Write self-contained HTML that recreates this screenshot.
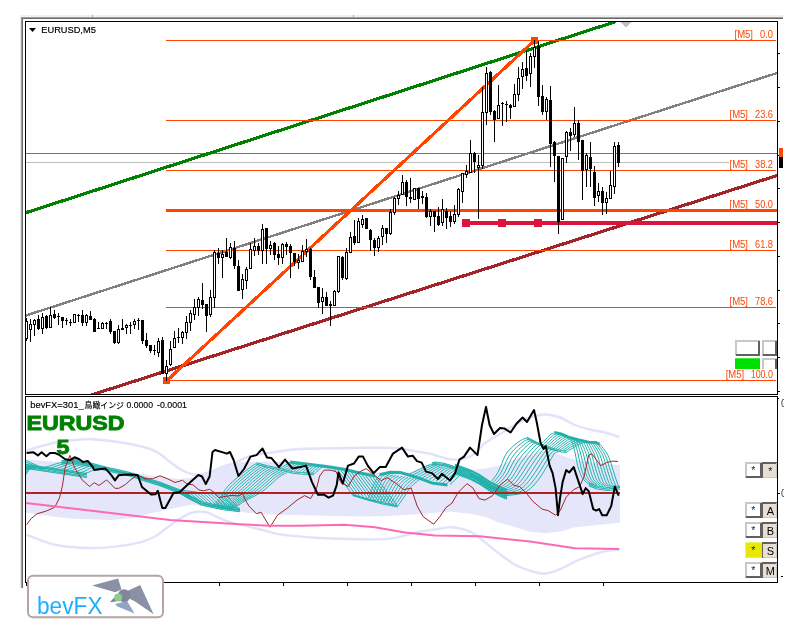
<!DOCTYPE html>
<html lang="ja"><head><meta charset="utf-8"><title>EURUSD,M5 - bevFX</title>
<style>html,body{margin:0;padding:0;background:#fff;overflow:hidden}svg{display:block}</style>
</head><body>
<svg width="799" height="627" viewBox="0 0 799 627">
<rect width="799" height="627" fill="#fff"/>
<defs><clipPath id="cm"><rect x="26" y="22" width="751" height="372"/></clipPath><clipPath id="cs"><rect x="26" y="397" width="594" height="185"/></clipPath></defs>
<g clip-path="url(#cm)" shape-rendering="crispEdges">
<rect x="26" y="162" width="703" height="1" fill="#C0C0C0"/>
<rect x="26" y="153" width="751" height="1" fill="#FF4500"/>
<line x1="25" y1="213" x2="616" y2="21.5" stroke="#008000" stroke-width="3.2"/>
<line x1="25" y1="315.8" x2="777" y2="73" stroke="#808080" stroke-width="2.4"/>
<line x1="80.0" y1="398.6" x2="778.0" y2="175.2" stroke="#A32428" stroke-width="3.2"/>
<rect x="166" y="40" width="610" height="1" fill="#FF4500"/>
<rect x="166" y="120" width="610" height="1" fill="#FF4500"/>
<rect x="166" y="170" width="610" height="1" fill="#FF4500"/>
<rect x="166" y="250" width="610" height="1" fill="#FF4500"/>
<rect x="166" y="307" width="610" height="1" fill="#FF4500"/>
<rect x="166" y="380" width="610" height="1" fill="#FF4500"/>
<rect x="166" y="209" width="611" height="3" fill="#FF4500"/>
<rect x="462" y="221" width="315" height="4" fill="#DC143C"/>
<rect x="462" y="219" width="8" height="8" fill="#DC143C"/>
<rect x="498" y="219" width="8" height="8" fill="#DC143C"/>
<rect x="534" y="219" width="8" height="8" fill="#DC143C"/>
<line x1="167" y1="380.5" x2="534.5" y2="40.5" stroke="#FF4500" stroke-width="3.2"/>
<rect x="163" y="377" width="7" height="7" fill="#FF4500"/>
<rect x="531" y="37" width="7" height="7" fill="#FF4500"/>
<path d="M620 22h11l-5.5 5.5z" fill="#C0C0C0"/>
<path d="M26 318v23h1v-23zM30 319v23h1v-23zM34 319v17h1v-17zM38 315v15h1v-15zM42 313v21h1v-21zM46 315v14h1v-14zM50 307v21h1v-21zM54 310v9h1v-9zM58 313v12h1v-12zM62 317v11h1v-11zM66 318v7h1v-7zM70 319v7h1v-7zM74 314v9h1v-9zM78 314v8h1v-8zM82 310v16h1v-16zM86 314v12h1v-12zM90 311v9h1v-9zM94 318v14h1v-14zM98 322v7h1v-7zM102 322v7h1v-7zM106 322v7h1v-7zM110 319v15h1v-15zM114 331v13h1v-13zM118 325v19h1v-19zM122 319v11h1v-11zM126 324v10h1v-10zM130 322v12h1v-12zM134 319v10h1v-10zM138 318v12h1v-12zM142 320v24h1v-24zM146 333v15h1v-15zM150 345v8h1v-8zM154 345v10h1v-10zM158 338v19h1v-19zM162 337v37h1v-37zM166 360v21h1v-21zM170 341v25h1v-25zM174 331v17h1v-17zM178 328v15h1v-15zM182 331v13h1v-13zM186 316v23h1v-23zM190 310v21h1v-21zM194 299v21h1v-21zM198 297v19h1v-19zM202 283v26h1v-26zM206 304v28h1v-28zM210 290v27h1v-27zM214 250v58h1v-58zM218 248v16h1v-16zM222 250v28h1v-28zM226 238v19h1v-19zM230 243v16h1v-16zM234 241v28h1v-28zM238 260v31h1v-31zM242 274v25h1v-25zM246 267v22h1v-22zM250 243v26h1v-26zM254 238v18h1v-18zM258 243v12h1v-12zM262 224v40h1v-40zM266 228v36h1v-36zM270 241v14h1v-14zM274 242v18h1v-18zM278 246v19h1v-19zM282 243v21h1v-21zM286 242v13h1v-13zM290 244v34h1v-34zM294 253v13h1v-13zM298 254v15h1v-15zM302 245v17h1v-17zM306 239v18h1v-18zM310 248v32h1v-32zM314 270v18h1v-18zM318 287v21h1v-21zM322 288v26h1v-26zM326 292v14h1v-14zM330 301v25h1v-25zM334 290v16h1v-16zM338 256v37h1v-37zM342 256v24h1v-24zM346 248v32h1v-32zM350 232v21h1v-21zM354 220v25h1v-25zM358 218v25h1v-25zM362 215v13h1v-13zM366 218v11h1v-11zM370 229v22h1v-22zM374 238v18h1v-18zM378 236v16h1v-16zM382 225v20h1v-20zM386 228v15h1v-15zM390 209v26h1v-26zM394 197v18h1v-18zM398 191v14h1v-14zM402 175v20h1v-20zM406 180v26h1v-26zM410 178v25h1v-25zM414 188v12h1v-12zM418 188v21h1v-21zM422 191v13h1v-13zM426 193v25h1v-25zM430 209v17h1v-17zM434 211v21h1v-21zM438 207v19h1v-19zM442 199v27h1v-27zM446 208v21h1v-21zM450 211v16h1v-16zM454 205v19h1v-19zM458 188v29h1v-29zM462 173v30h1v-30zM466 165v13h1v-13zM470 140v33h1v-33zM474 152v21h1v-21zM478 155v64h1v-64zM482 87v82h1v-82zM486 67v58h1v-58zM490 71v44h1v-44zM494 110v32h1v-32zM498 85v34h1v-34zM502 102v24h1v-24zM506 101v21h1v-21zM510 104v15h1v-15zM514 84v23h1v-23zM518 67v34h1v-34zM522 62v27h1v-27zM526 51v30h1v-30zM530 53v34h1v-34zM534 40v28h1v-28zM538 41v65h1v-65zM542 85v30h1v-30zM546 97v23h1v-23zM550 86v81h1v-81zM554 141v41h1v-41zM558 156v78h1v-78zM562 158v62h1v-62zM566 131v32h1v-32zM570 128v23h1v-23zM574 107v30h1v-30zM578 120v40h1v-40zM582 140v60h1v-60zM586 153v34h1v-34zM590 142v45h1v-45zM594 166v40h1v-40zM598 183v19h1v-19zM602 187v28h1v-28zM606 192v22h1v-22zM610 171v28h1v-28zM614 142v52h1v-52zM618 142v25h1v-25z" fill="#000"/>
<path d="M25 321h3v18h-3zM29 324h3v6h-3zM33 320h3v5h-3zM37 319h3v10h-3zM41 317h3v12h-3zM45 316h3v12h-3zM49 315h3v13h-3zM53 314h3v4h-3zM57 316h3v1h-3zM61 317h3v4h-3zM65 320h3v1h-3zM69 322h3v1h-3zM73 314h3v9h-3zM77 315h3v1h-3zM81 315h3v8h-3zM85 315h3v8h-3zM89 316h3v4h-3zM93 319h3v13h-3zM97 328h3v1h-3zM101 323h3v6h-3zM105 323h3v1h-3zM109 321h3v11h-3zM113 331h3v12h-3zM117 329h3v14h-3zM121 328h3v2h-3zM125 325h3v3h-3zM129 325h3v1h-3zM133 321h3v4h-3zM137 320h3v1h-3zM141 320h3v21h-3zM145 340h3v6h-3zM149 345h3v6h-3zM153 350h3v1h-3zM157 341h3v12h-3zM161 340h3v34h-3zM165 366h3v8h-3zM169 349h3v16h-3zM173 338h3v10h-3zM177 337h3v1h-3zM181 332h3v6h-3zM185 322h3v11h-3zM189 313h3v10h-3zM193 307h3v8h-3zM197 299h3v9h-3zM201 300h3v5h-3zM205 304h3v12h-3zM209 297h3v18h-3zM213 252h3v46h-3zM217 253h3v5h-3zM221 254h3v4h-3zM225 252h3v5h-3zM229 247h3v11h-3zM233 248h3v18h-3zM237 266h3v25h-3zM241 279h3v11h-3zM245 269h3v12h-3zM249 249h3v20h-3zM253 246h3v5h-3zM257 246h3v5h-3zM261 229h3v22h-3zM265 228h3v21h-3zM269 245h3v4h-3zM273 243h3v12h-3zM277 254h3v4h-3zM281 244h3v14h-3zM285 244h3v3h-3zM289 246h3v7h-3zM293 253h3v9h-3zM297 260h3v3h-3zM301 251h3v11h-3zM305 249h3v3h-3zM309 249h3v28h-3zM313 277h3v11h-3zM317 287h3v16h-3zM321 297h3v5h-3zM325 297h3v9h-3zM329 304h3v2h-3zM333 291h3v15h-3zM337 256h3v36h-3zM341 257h3v21h-3zM345 252h3v27h-3zM349 237h3v16h-3zM353 236h3v7h-3zM357 221h3v22h-3zM361 219h3v6h-3zM365 218h3v11h-3zM369 230h3v10h-3zM373 240h3v8h-3zM377 238h3v10h-3zM381 228h3v9h-3zM385 228h3v6h-3zM389 212h3v22h-3zM393 198h3v15h-3zM397 195h3v4h-3zM401 182h3v13h-3zM405 182h3v15h-3zM409 197h3v2h-3zM413 188h3v12h-3zM417 188h3v11h-3zM421 196h3v2h-3zM425 197h3v20h-3zM429 211h3v6h-3zM433 211h3v6h-3zM437 216h3v9h-3zM441 209h3v14h-3zM445 211h3v7h-3zM449 216h3v6h-3zM453 214h3v8h-3zM457 189h3v26h-3zM461 173h3v19h-3zM465 171h3v4h-3zM469 153h3v20h-3zM473 153h3v9h-3zM477 165h3v3h-3zM481 112h3v54h-3zM485 73h3v40h-3zM489 72h3v40h-3zM493 111h3v9h-3zM497 105h3v14h-3zM501 103h3v1h-3zM505 104h3v1h-3zM509 105h3v3h-3zM513 94h3v13h-3zM517 78h3v17h-3zM521 69h3v8h-3zM525 68h3v8h-3zM529 56h3v18h-3zM533 47h3v10h-3zM537 46h3v51h-3zM541 96h3v16h-3zM545 99h3v13h-3zM549 100h3v44h-3zM553 142h3v14h-3zM557 156h3v66h-3zM561 158h3v62h-3zM565 132h3v25h-3zM569 132h3v4h-3zM573 123h3v12h-3zM577 123h3v19h-3zM581 140h3v31h-3zM585 155h3v15h-3zM589 157h3v12h-3zM593 172h3v26h-3zM597 191h3v5h-3zM601 191h3v12h-3zM605 198h3v5h-3zM609 185h3v14h-3zM613 146h3v41h-3zM617 145h3v18h-3z" fill="#000"/>
<path d="M26 322h1v16h-1zM30 325h1v4h-1zM34 321h1v3h-1zM42 318h1v10h-1zM50 316h1v11h-1zM74 315h1v7h-1zM86 316h1v6h-1zM102 324h1v4h-1zM118 330h1v12h-1zM126 326h1v1h-1zM134 322h1v2h-1zM158 342h1v10h-1zM166 367h1v6h-1zM170 350h1v14h-1zM174 339h1v8h-1zM182 333h1v4h-1zM186 323h1v9h-1zM190 314h1v8h-1zM194 308h1v6h-1zM198 300h1v7h-1zM210 298h1v16h-1zM214 253h1v44h-1zM222 255h1v2h-1zM230 248h1v9h-1zM242 280h1v9h-1zM246 270h1v10h-1zM250 250h1v18h-1zM254 247h1v3h-1zM262 230h1v20h-1zM270 246h1v2h-1zM282 245h1v12h-1zM298 261h1v1h-1zM302 252h1v9h-1zM306 250h1v1h-1zM322 298h1v3h-1zM334 292h1v13h-1zM338 257h1v34h-1zM346 253h1v25h-1zM350 238h1v14h-1zM358 222h1v20h-1zM362 220h1v4h-1zM378 239h1v8h-1zM382 229h1v7h-1zM390 213h1v20h-1zM394 199h1v13h-1zM398 196h1v2h-1zM402 183h1v11h-1zM414 189h1v10h-1zM430 212h1v4h-1zM442 210h1v12h-1zM454 215h1v6h-1zM458 190h1v24h-1zM462 174h1v17h-1zM466 172h1v2h-1zM470 154h1v18h-1zM478 166h1v1h-1zM482 113h1v52h-1zM486 74h1v38h-1zM498 106h1v12h-1zM514 95h1v11h-1zM518 79h1v15h-1zM522 70h1v6h-1zM530 57h1v16h-1zM534 48h1v8h-1zM546 100h1v11h-1zM562 159h1v60h-1zM566 133h1v23h-1zM574 124h1v10h-1zM586 156h1v13h-1zM598 192h1v3h-1zM606 199h1v3h-1zM610 186h1v12h-1zM614 147h1v39h-1z" fill="#fff"/>
</g>
<g shape-rendering="crispEdges">
<rect x="735" y="340" width="25" height="16" fill="#fff"/><rect x="735" y="340" width="25" height="2" fill="#C8C8C8"/><rect x="735" y="340" width="2" height="16" fill="#C8C8C8"/><rect x="736" y="354" width="24" height="2" fill="#606060"/><rect x="758" y="341" width="2" height="15" fill="#606060"/>
<rect x="762" y="340" width="15" height="16" fill="#fff"/><rect x="762" y="340" width="15" height="2" fill="#C8C8C8"/><rect x="762" y="340" width="2" height="16" fill="#C8C8C8"/><rect x="763" y="354" width="14" height="2" fill="#606060"/><rect x="775" y="341" width="2" height="15" fill="#606060"/>
<rect x="735" y="358" width="25" height="11" fill="#00E000"/>
<rect x="735" y="358" width="25" height="1" fill="#40F040"/>
<rect x="762" y="358" width="15" height="11" fill="#fff"/><rect x="762" y="358" width="15" height="2" fill="#C8C8C8"/><rect x="762" y="358" width="2" height="11" fill="#C8C8C8"/><rect x="775" y="359" width="2" height="10" fill="#606060"/>
</g>
<path d="M29 28h7l-3.5 4z" fill="#000"/>
<text x="41.3" y="33" font-family='"Liberation Sans", "Noto Sans CJK JP", sans-serif' font-size="9.6" stroke="#000" stroke-width="0.2" textLength="54.5" lengthAdjust="spacingAndGlyphs" fill="#000">EURUSD,M5</text>
<text x="734.5" y="38" font-family='"Liberation Sans", "Noto Sans CJK JP", sans-serif' font-size="10" textLength="18.5" lengthAdjust="spacingAndGlyphs" fill="#FF4500">[M5]</text>
<text x="760" y="38" font-family='"Liberation Sans", "Noto Sans CJK JP", sans-serif' font-size="10" textLength="13" lengthAdjust="spacingAndGlyphs" fill="#FF4500">0.0</text>
<text x="729.5" y="118" font-family='"Liberation Sans", "Noto Sans CJK JP", sans-serif' font-size="10" textLength="18.5" lengthAdjust="spacingAndGlyphs" fill="#FF4500">[M5]</text>
<text x="755" y="118" font-family='"Liberation Sans", "Noto Sans CJK JP", sans-serif' font-size="10" textLength="18" lengthAdjust="spacingAndGlyphs" fill="#FF4500">23.6</text>
<text x="729.5" y="168" font-family='"Liberation Sans", "Noto Sans CJK JP", sans-serif' font-size="10" textLength="18.5" lengthAdjust="spacingAndGlyphs" fill="#FF4500">[M5]</text>
<text x="755" y="168" font-family='"Liberation Sans", "Noto Sans CJK JP", sans-serif' font-size="10" textLength="18" lengthAdjust="spacingAndGlyphs" fill="#FF4500">38.2</text>
<text x="729.5" y="208" font-family='"Liberation Sans", "Noto Sans CJK JP", sans-serif' font-size="10" textLength="18.5" lengthAdjust="spacingAndGlyphs" fill="#FF4500">[M5]</text>
<text x="755" y="208" font-family='"Liberation Sans", "Noto Sans CJK JP", sans-serif' font-size="10" textLength="18" lengthAdjust="spacingAndGlyphs" fill="#FF4500">50.0</text>
<text x="729.5" y="248" font-family='"Liberation Sans", "Noto Sans CJK JP", sans-serif' font-size="10" textLength="18.5" lengthAdjust="spacingAndGlyphs" fill="#FF4500">[M5]</text>
<text x="755" y="248" font-family='"Liberation Sans", "Noto Sans CJK JP", sans-serif' font-size="10" textLength="18" lengthAdjust="spacingAndGlyphs" fill="#FF4500">61.8</text>
<text x="729.5" y="305" font-family='"Liberation Sans", "Noto Sans CJK JP", sans-serif' font-size="10" textLength="18.5" lengthAdjust="spacingAndGlyphs" fill="#FF4500">[M5]</text>
<text x="755" y="305" font-family='"Liberation Sans", "Noto Sans CJK JP", sans-serif' font-size="10" textLength="18" lengthAdjust="spacingAndGlyphs" fill="#FF4500">78.6</text>
<text x="725.7" y="378" font-family='"Liberation Sans", "Noto Sans CJK JP", sans-serif' font-size="10" textLength="18.5" lengthAdjust="spacingAndGlyphs" fill="#FF4500">[M5]</text>
<text x="750.7" y="378" font-family='"Liberation Sans", "Noto Sans CJK JP", sans-serif' font-size="10" textLength="22.3" lengthAdjust="spacingAndGlyphs" fill="#FF4500">100.0</text>
<g clip-path="url(#cs)">
<path d="M26.0 459.6 L60.0 462.0 L90.0 463.0 L110.0 467.0 L130.0 472.0 L150.0 475.6 L170.0 478.0 L180.0 479.0 L190.0 478.0 L202.0 475.6 L214.0 471.0 L230.0 464.4 L242.0 462.0 L256.0 462.0 L292.0 461.0 L330.0 465.0 L345.0 467.5 L356.0 471.0 L380.0 472.5 L400.0 472.0 L410.0 472.5 L418.0 469.0 L427.0 465.5 L434.0 463.0 L444.0 463.5 L455.0 467.0 L470.0 470.0 L485.0 468.6 L500.0 465.6 L515.0 459.6 L530.0 455.0 L545.0 450.6 L560.0 455.0 L575.0 459.6 L590.0 462.6 L605.0 464.0 L620.0 465.0 L620.0 522.7 L605.0 524.2 L590.0 525.7 L575.0 527.2 L560.0 531.7 L545.0 533.2 L530.0 531.7 L515.0 527.2 L500.0 522.7 L485.0 516.7 L470.0 513.7 L450.0 511.5 L420.0 514.0 L390.0 516.0 L360.0 516.5 L315.0 515.5 L270.0 514.5 L245.0 512.5 L227.6 510.0 L210.0 507.0 L192.6 504.6 L175.0 508.0 L161.5 511.0 L150.0 513.5 L136.5 517.5 L111.5 520.0 L74.0 518.7 L56.0 517.0 L26.0 512.5Z" fill="#E6E6FA"/>
<path d="M26.0 451.0C28.3 450.2 35.0 447.9 40.0 446.5C45.0 445.1 50.2 443.6 56.0 442.5C61.8 441.4 69.0 440.6 75.0 440.0C81.0 439.4 86.2 439.0 92.0 439.2C97.8 439.4 103.7 440.2 110.0 441.0C116.3 441.8 123.3 442.7 130.0 444.0C136.7 445.3 145.0 447.3 150.0 449.0C155.0 450.7 156.7 451.8 160.0 454.0C163.3 456.2 166.7 459.5 170.0 462.0C173.3 464.5 176.7 467.1 180.0 469.0C183.3 470.9 187.0 472.6 190.0 473.6C193.0 474.6 194.7 475.3 198.0 475.0C201.3 474.7 206.0 473.3 210.0 472.0C214.0 470.7 218.0 468.5 222.0 467.0C226.0 465.5 229.3 464.8 234.0 463.0C238.7 461.2 245.3 457.5 250.0 456.0C254.7 454.5 256.2 454.9 262.0 454.0C267.8 453.1 277.8 451.4 285.0 450.5C292.2 449.6 293.3 449.1 305.0 448.7C316.7 448.3 340.5 448.1 355.0 448.0C369.5 447.9 381.2 447.3 392.0 448.0C402.8 448.7 413.7 451.1 420.0 452.0C426.3 452.9 426.7 452.9 430.0 453.7C433.3 454.5 436.3 455.6 440.0 456.6C443.7 457.6 447.0 459.6 452.0 459.6C457.0 459.6 464.5 459.4 470.0 456.6C475.5 453.8 480.0 446.8 485.0 443.0C490.0 439.2 495.0 437.0 500.0 434.0C505.0 431.0 510.0 427.8 515.0 425.0C520.0 422.2 525.0 419.2 530.0 417.5C535.0 415.8 540.0 414.5 545.0 414.5C550.0 414.5 555.0 415.8 560.0 417.5C565.0 419.2 570.0 423.0 575.0 425.0C580.0 427.0 585.0 428.2 590.0 429.5C595.0 430.8 600.1 431.2 605.0 432.5C609.9 433.8 616.9 436.2 619.3 437.0" fill="none" stroke="#E2E2FA" stroke-width="2.4" stroke-linejoin="round"/>
<path d="M26.0 534.7C31.0 536.4 45.0 542.8 56.0 545.0C67.0 547.2 81.3 547.8 92.0 548.0C102.7 548.2 112.0 547.0 120.0 546.0C128.0 545.0 134.3 543.8 140.0 542.3C145.7 540.8 149.6 539.3 154.0 537.0C158.4 534.7 162.2 531.2 166.3 528.3C170.4 525.4 174.1 522.1 178.5 519.5C182.9 516.9 187.9 513.7 192.6 512.5C197.3 511.3 202.5 511.5 206.6 512.2C210.7 513.0 213.5 515.5 217.0 517.0C220.5 518.5 222.9 519.8 227.6 521.3C232.3 522.8 239.2 524.2 245.0 525.7C250.8 527.2 256.8 528.5 262.6 530.0C268.4 531.5 271.3 533.1 280.0 534.4C288.7 535.7 301.7 536.9 315.0 537.7C328.3 538.5 347.5 539.1 360.0 539.2C372.5 539.4 380.0 539.9 390.0 538.6C400.0 537.4 411.7 533.4 420.0 531.7C428.3 530.1 434.7 529.5 440.0 528.7C445.3 528.0 447.0 526.7 452.0 527.2C457.0 527.7 464.5 529.2 470.0 531.7C475.5 534.2 480.0 538.5 485.0 542.2C490.0 546.0 495.0 550.5 500.0 554.2C505.0 558.0 510.0 562.0 515.0 564.7C520.0 567.5 525.0 569.2 530.0 570.7C535.0 572.2 540.0 574.0 545.0 573.7C550.0 573.5 555.0 571.2 560.0 569.2C565.0 567.2 570.0 564.0 575.0 561.7C580.0 559.5 585.0 557.5 590.0 555.7C595.0 554.0 600.1 552.2 605.0 551.2C609.9 550.2 616.9 550.0 619.3 549.7" fill="none" stroke="#E2E2FA" stroke-width="2.4" stroke-linejoin="round"/>
<path d="M26.0 464.5 L87.0 473.5M26.0 465.8 L87.0 474.8M26.0 467.2 L87.0 476.2M26.0 468.5 L87.0 477.5M61.5 460.8 L73.5 459.2 L91.6 463.2 L106.6 467.2 L129.0 472.2 L144.0 477.2 L160.0 482.2 L179.5 489.8M61.5 461.9 L73.5 460.4 L91.6 464.4 L106.6 468.4 L129.0 473.4 L144.0 478.4 L160.0 483.4 L179.5 490.9M61.5 463.1 L73.5 461.6 L91.6 465.6 L106.6 469.6 L129.0 474.6 L144.0 479.6 L160.0 484.6 L179.5 492.1M61.5 464.2 L73.5 462.8 L91.6 466.8 L106.6 470.8 L129.0 475.8 L144.0 480.8 L160.0 485.8 L179.5 493.2M179.5 489.8 L190.0 495.8 L202.0 501.8 L223.0 506.2 L240.0 508.2M179.5 490.9 L190.0 496.9 L202.0 502.9 L223.0 507.4 L240.0 509.4M179.5 492.1 L190.0 498.1 L202.0 504.1 L223.0 508.6 L240.0 510.6M179.5 493.2 L190.0 499.2 L202.0 505.2 L223.0 509.8 L240.0 511.8M179.5 490.0 L197.6 492.3 L220.0 493.8 L228.0 494.2M256.3 462.8 L267.5 465.8 L279.5 468.2 L293.0 471.8 L300.5 472.6 L314.0 473.2M256.3 464.2 L267.5 467.2 L279.5 469.8 L293.0 473.2 L300.5 474.1 L314.0 474.8M290.0 460.9 L308.0 463.2 L326.0 465.4 L345.0 468.4 L360.0 471.9 L375.0 474.9M290.0 462.0 L308.0 464.3 L326.0 466.5 L345.0 469.5 L360.0 473.0 L375.0 476.0M290.0 463.1 L308.0 465.4 L326.0 467.6 L345.0 470.6 L360.0 474.1 L375.0 477.1M352.5 494.4 L367.5 498.9 L382.5 502.7 L397.6 505.7M352.5 495.6 L367.5 500.1 L382.5 503.9 L397.6 506.9M379.5 473.8 L390.0 471.2 L400.5 471.5 L408.0 473.8 L420.0 477.5 L432.0 482.0 L447.5 484.0M379.5 474.8 L390.0 472.2 L400.5 472.5 L408.0 474.8 L420.0 478.5 L432.0 483.0 L447.5 485.0M379.5 475.8 L390.0 473.2 L400.5 473.5 L408.0 475.8 L420.0 479.5 L432.0 484.0 L447.5 486.0M432.0 462.8 L435.0 462.1 L444.0 463.2 L455.0 466.8M432.0 464.0 L435.0 463.4 L444.0 464.5 L455.0 468.0M432.0 465.2 L435.0 464.6 L444.0 465.8 L455.0 469.2M455.0 464.2 L470.0 469.8 L479.0 474.2 L491.0 482.2 L500.0 486.8 L507.0 489.8M455.0 465.4 L470.0 470.9 L479.0 475.4 L491.0 483.4 L500.0 487.9 L507.0 490.9M455.0 466.6 L470.0 472.1 L479.0 476.6 L491.0 484.6 L500.0 489.1 L507.0 492.1M455.0 467.8 L470.0 473.3 L479.0 477.8 L491.0 485.8 L500.0 490.3 L507.0 493.3M455.0 469.0 L470.0 474.5 L479.0 479.0 L491.0 487.0 L500.0 491.5 L507.0 494.5M455.0 470.2 L470.0 475.7 L479.0 480.2 L491.0 488.2 L500.0 492.7 L507.0 495.7M455.0 471.4 L470.0 476.9 L479.0 481.4 L491.0 489.4 L500.0 493.9 L507.0 496.9M455.0 472.6 L470.0 478.1 L479.0 482.6 L491.0 490.6 L500.0 495.1 L507.0 498.1M455.0 473.8 L470.0 479.2 L479.0 483.8 L491.0 491.8 L500.0 496.2 L507.0 499.2M526.9 437.2 L536.5 442.2 L547.5 446.9 L561.3 450.4 L566.8 451.1M526.9 438.8 L536.5 443.8 L547.5 448.4 L561.3 451.9 L566.8 452.6M554.4 431.6 L561.3 433.0 L569.6 436.4 L579.2 439.1 L588.8 441.2 L595.7 441.6 L599.8 443.3M554.4 432.6 L561.3 434.0 L569.6 437.4 L579.2 440.1 L588.8 442.2 L595.7 442.6 L599.8 444.3M554.4 433.6 L561.3 435.0 L569.6 438.4 L579.2 441.1 L588.8 443.2 L595.7 443.6 L599.8 445.3M588.8 482.7 L597.0 486.1 L608.0 487.5 L621.0 485.8M588.8 484.2 L597.0 487.6 L608.0 489.0 L621.0 487.3M588.8 485.7 L597.0 489.1 L608.0 490.5 L621.0 488.8" fill="none" stroke="#20B2AA" stroke-width="1.05" stroke-linejoin="round"/>
<path d="M26.0 470.0C26.7 469.7 28.7 468.4 30.0 468.0C31.3 467.6 33.3 467.7 34.0 467.6M26.0 468.1C26.9 468.0 29.5 467.4 31.2 467.4C32.9 467.4 35.5 467.8 36.4 467.9M26.0 466.2C27.1 466.3 30.3 466.5 32.4 466.8C34.5 467.1 37.7 468.0 38.8 468.2M26.0 464.3C27.3 464.6 31.1 465.5 33.6 466.2C36.1 466.9 39.9 468.2 41.2 468.6M26.0 462.4C27.5 462.9 31.9 464.5 34.8 465.6C37.7 466.7 42.1 468.3 43.6 468.9M26.0 460.5C27.7 461.2 32.7 463.6 36.0 465.0C39.3 466.4 44.3 468.5 46.0 469.2M26.0 474.5C26.5 473.8 28.0 471.2 29.0 470.0C30.0 468.8 31.5 467.9 32.0 467.5M26.0 473.0C26.5 472.4 28.1 470.3 29.2 469.4C30.3 468.5 31.9 467.8 32.4 467.5M26.0 471.5C26.6 471.1 28.3 469.5 29.4 468.8C30.5 468.1 32.2 467.8 32.8 467.5M26.0 470.0C26.6 469.7 28.4 468.6 29.6 468.2C30.8 467.8 32.6 467.7 33.2 467.6M26.0 468.5C26.6 468.4 28.5 467.8 29.8 467.6C31.1 467.4 33.0 467.6 33.6 467.6M26.0 467.0C26.7 467.0 28.7 466.9 30.0 467.0C31.3 467.1 33.3 467.5 34.0 467.6M38.0 468.2C39.7 467.9 44.7 467.3 48.0 466.5C51.3 465.7 55.0 463.9 58.0 463.2C61.0 462.4 64.7 462.2 66.0 462.0M43.2 469.0C44.9 468.7 49.8 468.1 53.0 467.2C56.2 466.4 59.9 464.6 62.8 463.9C65.6 463.1 69.1 462.9 70.4 462.7M48.5 469.8C50.1 469.5 54.8 468.9 58.0 468.0C61.2 467.1 64.7 465.3 67.5 464.5C70.3 463.8 73.5 463.5 74.8 463.4M53.8 470.6C55.3 470.3 59.9 469.6 63.0 468.8C66.1 467.9 69.6 466.0 72.2 465.2C74.9 464.4 78.0 464.2 79.1 464.0M59.0 471.4C60.5 471.0 65.0 470.4 68.0 469.5C71.0 468.6 74.4 466.7 77.0 465.9C79.6 465.1 82.4 464.9 83.5 464.7M64.2 472.1C65.7 471.8 70.1 471.2 73.0 470.2C75.9 469.3 79.3 467.3 81.8 466.5C84.2 465.7 86.9 465.6 87.9 465.4M69.5 472.9C70.9 472.6 75.2 472.0 78.0 471.0C80.8 470.0 84.1 468.0 86.5 467.2C88.9 466.4 91.3 466.2 92.2 466.0M74.8 473.7C76.1 473.4 80.2 472.7 83.0 471.8C85.8 470.8 89.0 468.7 91.2 467.8C93.5 467.0 95.7 466.9 96.6 466.7M80.0 474.5C81.3 474.2 85.3 473.5 88.0 472.5C90.7 471.5 93.8 469.4 96.0 468.5C98.2 467.6 100.2 467.6 101.0 467.4M181.0 490.5C181.8 491.2 184.2 493.6 186.0 495.0C187.8 496.4 191.0 498.3 192.0 499.0M184.6 490.8C185.4 491.6 187.9 493.9 189.8 495.4C191.6 496.9 194.9 499.1 195.9 499.9M188.2 491.1C189.1 491.9 191.6 494.2 193.5 495.8C195.4 497.4 198.8 499.9 199.8 500.8M191.8 491.4C192.7 492.2 195.2 494.5 197.2 496.2C199.2 498.0 202.7 500.7 203.8 501.6M195.3 491.7C196.3 492.5 198.9 494.9 201.0 496.7C203.1 498.5 206.6 501.5 207.7 502.5M198.9 492.0C199.9 492.8 202.6 495.2 204.8 497.1C206.9 499.0 210.4 502.3 211.6 503.4M202.5 492.2C203.5 493.1 206.3 495.5 208.5 497.5C210.7 499.5 214.3 503.1 215.5 504.2M206.1 492.5C207.1 493.4 210.0 495.8 212.2 497.9C214.5 500.0 218.2 503.9 219.4 505.1M209.7 492.8C210.7 493.8 213.7 496.1 216.0 498.3C218.3 500.5 222.1 504.7 223.3 506.0M213.2 493.1C214.3 494.1 217.4 496.5 219.8 498.8C222.1 501.0 226.0 505.5 227.2 506.9M216.8 493.4C217.9 494.4 221.1 496.8 223.5 499.2C225.9 501.6 229.9 506.3 231.2 507.8M220.4 493.7C221.6 494.7 224.8 497.1 227.2 499.6C229.7 502.1 233.8 507.1 235.1 508.6M224.0 494.0C225.2 495.0 228.5 497.4 231.0 500.0C233.5 502.6 237.7 507.9 239.0 509.5M211.0 506.0C211.5 505.7 212.5 505.3 214.0 504.0C215.5 502.7 218.0 500.6 220.0 498.0C222.0 495.4 223.5 491.6 226.0 488.5C228.5 485.4 231.0 483.0 235.0 479.5C239.0 476.0 246.4 470.2 250.0 467.5C253.6 464.8 255.2 464.2 256.3 463.5M212.5 506.3C213.1 505.9 214.3 505.5 215.9 504.2C217.5 502.8 219.9 500.8 222.1 498.2C224.2 495.7 226.2 491.9 228.8 488.9C231.5 485.8 234.0 483.4 237.9 480.0C241.8 476.5 248.9 470.9 252.4 468.3C255.9 465.7 257.8 464.9 258.9 464.2M214.0 506.6C214.6 506.2 216.1 505.7 217.8 504.3C219.5 503.0 221.9 501.0 224.2 498.5C226.5 496.0 228.9 492.3 231.7 489.2C234.4 486.2 237.0 483.8 240.8 480.4C244.7 477.1 251.4 471.7 254.8 469.1C258.3 466.5 260.3 465.7 261.4 465.0M215.5 506.9C216.2 506.5 218.0 505.9 219.8 504.5C221.5 503.1 223.8 501.2 226.2 498.8C228.7 496.3 231.6 492.6 234.5 489.6C237.4 486.6 240.0 484.2 243.8 480.9C247.5 477.6 253.9 472.4 257.2 469.9C260.6 467.4 262.9 466.4 264.0 465.8M217.0 507.2C217.8 506.8 219.8 506.0 221.7 504.7C223.6 503.3 225.7 501.4 228.3 499.0C230.9 496.6 234.3 492.9 237.3 490.0C240.4 487.1 242.9 484.6 246.7 481.3C250.4 478.1 256.4 473.1 259.7 470.7C263.0 468.2 265.4 467.2 266.5 466.5M218.5 507.5C219.3 507.0 221.6 506.2 223.6 504.8C225.6 503.5 227.7 501.7 230.4 499.2C233.2 496.8 237.0 493.3 240.2 490.4C243.4 487.5 245.9 484.9 249.6 481.8C253.2 478.6 258.8 473.9 262.1 471.5C265.3 469.0 267.9 468.0 269.1 467.2M220.0 507.8C220.9 507.3 223.4 506.4 225.5 505.0C227.6 503.6 229.6 501.9 232.5 499.5C235.4 497.1 239.7 493.6 243.0 490.8C246.3 487.9 248.9 485.3 252.5 482.2C256.1 479.2 261.3 474.6 264.5 472.2C267.7 469.9 270.5 468.7 271.6 468.0M221.5 508.0C222.5 507.6 225.2 506.5 227.4 505.2C229.6 503.8 231.5 502.1 234.6 499.8C237.7 497.4 242.4 494.0 245.8 491.1C249.3 488.3 251.9 485.7 255.4 482.7C258.9 479.7 263.8 475.4 266.9 473.0C270.0 470.7 273.0 469.5 274.2 468.8M223.0 508.3C224.1 507.8 227.1 506.7 229.3 505.3C231.6 503.9 233.4 502.3 236.7 500.0C239.9 497.7 245.1 494.3 248.7 491.5C252.3 488.7 254.9 486.1 258.3 483.2C261.8 480.2 266.3 476.1 269.3 473.8C272.4 471.6 275.5 470.2 276.8 469.5M224.5 508.6C225.6 508.1 228.9 506.9 231.2 505.5C233.6 504.1 235.4 502.5 238.8 500.2C242.1 498.0 247.8 494.6 251.5 491.9C255.2 489.1 257.9 486.5 261.2 483.6C264.6 480.8 268.7 476.9 271.8 474.6C274.8 472.4 278.1 471.0 279.3 470.2M226.0 508.9C227.2 508.4 230.7 507.1 233.2 505.7C235.6 504.3 237.3 502.7 240.8 500.5C244.4 498.3 250.4 495.0 254.3 492.2C258.2 489.5 260.9 486.9 264.2 484.1C267.5 481.3 271.2 477.6 274.2 475.4C277.1 473.2 280.6 471.7 281.9 471.0M227.5 509.2C228.8 508.6 232.5 507.2 235.1 505.8C237.7 504.4 239.2 503.0 242.9 500.8C246.6 498.5 253.1 495.3 257.2 492.6C261.2 489.9 263.8 487.3 267.1 484.5C270.3 481.8 273.7 478.3 276.6 476.2C279.5 474.1 283.1 472.5 284.4 471.8M229.0 509.5C230.3 508.9 234.3 507.4 237.0 506.0C239.7 504.6 241.2 503.2 245.0 501.0C248.8 498.8 255.8 495.7 260.0 493.0C264.2 490.3 266.8 487.7 270.0 485.0C273.2 482.3 276.2 479.1 279.0 477.0C281.8 474.9 285.7 473.2 287.0 472.5M279.5 469.0C280.2 468.5 282.2 467.1 284.0 466.0C285.8 464.9 289.0 462.9 290.0 462.3M282.4 469.4C283.1 468.9 285.1 467.5 286.8 466.4C288.6 465.2 291.8 463.2 292.8 462.6M285.2 469.8C286.0 469.3 288.0 467.9 289.7 466.8C291.4 465.6 294.5 463.6 295.5 462.9M288.1 470.2C288.9 469.7 290.8 468.3 292.5 467.1C294.2 466.0 297.3 463.9 298.2 463.3M291.0 470.7C291.7 470.1 293.7 468.7 295.3 467.5C297.0 466.3 300.1 464.2 301.0 463.6M293.9 471.1C294.6 470.5 296.5 469.1 298.2 467.9C299.8 466.7 302.8 464.6 303.8 463.9M296.8 471.5C297.5 471.0 299.4 469.5 301.0 468.2C302.6 467.0 305.6 464.9 306.5 464.2M299.6 471.9C300.3 471.4 302.2 469.8 303.8 468.6C305.4 467.4 308.3 465.2 309.2 464.6M302.5 472.3C303.2 471.8 305.1 470.2 306.7 469.0C308.2 467.8 311.1 465.6 312.0 464.9M305.4 472.8C306.1 472.2 307.9 470.6 309.5 469.4C311.1 468.1 313.9 465.9 314.8 465.2M308.2 473.2C308.9 472.6 310.8 471.0 312.3 469.8C313.9 468.5 316.6 466.2 317.5 465.6M311.1 473.6C311.8 473.0 313.6 471.4 315.2 470.1C316.7 468.8 319.4 466.6 320.2 465.9M314.0 474.0C314.7 473.4 316.5 471.8 318.0 470.5C319.5 469.2 322.2 466.9 323.0 466.2M333.0 467.5L352.5 495.0M336.5 468.2L356.3 495.9M340.0 468.9L360.0 496.9M343.5 469.6L363.8 497.8M347.0 470.3L367.5 498.8M350.5 471.0L371.3 499.7M354.0 471.8L375.1 500.6M357.5 472.5L378.8 501.6M361.0 473.2L382.6 502.5M364.5 473.9L386.3 503.5M368.0 474.6L390.1 504.4M371.5 475.3L393.8 505.4M375.0 476.0L397.6 506.3M367.5 499.5C368.2 497.8 370.6 492.2 372.0 489.0C373.4 485.8 374.8 482.2 376.0 480.0C377.2 477.8 378.2 476.6 379.5 475.5C380.8 474.4 383.2 473.8 384.0 473.5M370.0 500.1C370.8 498.3 373.2 492.9 374.7 489.7C376.1 486.4 377.5 482.9 378.8 480.7C380.1 478.4 381.1 477.2 382.5 476.1C383.8 475.0 386.2 474.3 387.0 474.0M372.5 500.6C373.3 498.9 375.8 493.5 377.3 490.3C378.9 487.1 380.3 483.6 381.7 481.3C383.0 479.1 384.0 477.9 385.4 476.8C386.8 475.6 389.2 474.8 390.0 474.4M375.0 501.2C375.9 499.5 378.4 494.2 380.0 491.0C381.6 487.8 383.1 484.3 384.5 482.0C385.9 479.7 387.0 478.6 388.4 477.4C389.8 476.2 392.2 475.3 393.0 474.9M377.5 501.8C378.4 500.1 381.0 494.9 382.7 491.7C384.3 488.5 385.9 484.9 387.3 482.7C388.8 480.4 389.9 479.2 391.3 478.0C392.8 476.8 395.2 475.8 396.0 475.3M380.0 502.3C380.9 500.7 383.6 495.5 385.3 492.3C387.0 489.2 388.7 485.6 390.2 483.3C391.7 481.0 392.8 479.9 394.3 478.6C395.8 477.4 398.2 476.3 399.0 475.8M382.6 502.9C383.5 501.2 386.3 496.1 388.0 493.0C389.7 489.9 391.5 486.3 393.0 484.0C394.5 481.7 395.8 480.5 397.2 479.2C398.8 478.0 401.2 476.8 402.0 476.2M385.1 503.5C386.0 501.8 388.9 496.8 390.7 493.7C392.5 490.5 394.2 487.0 395.8 484.7C397.4 482.4 398.7 481.2 400.2 479.9C401.7 478.5 404.2 477.2 405.0 476.7M387.6 504.0C388.5 502.4 391.5 497.4 393.3 494.3C395.2 491.2 397.0 487.6 398.7 485.3C400.3 483.0 401.6 481.9 403.2 480.5C404.7 479.1 407.2 477.7 408.0 477.2M390.1 504.6C391.1 503.0 394.1 498.1 396.0 495.0C397.9 491.9 399.8 488.3 401.5 486.0C403.2 483.7 404.5 482.5 406.1 481.1C407.7 479.7 410.2 478.2 411.0 477.6M392.6 505.2C393.6 503.6 396.7 498.8 398.7 495.7C400.6 492.6 402.6 489.0 404.3 486.7C406.1 484.3 407.5 483.2 409.1 481.8C410.7 480.3 413.2 478.7 414.0 478.1M395.1 505.7C396.1 504.2 399.3 499.4 401.3 496.3C403.3 493.3 405.4 489.7 407.2 487.3C409.0 485.0 410.4 483.8 412.0 482.4C413.7 480.9 416.2 479.2 417.0 478.5M397.6 506.3C398.7 504.8 401.9 500.1 404.0 497.0C406.1 493.9 408.2 490.3 410.0 488.0C411.8 485.7 413.3 484.5 415.0 483.0C416.7 481.5 419.2 479.7 420.0 479.0M408.0 474.8C409.3 474.2 413.2 472.4 416.0 471.0C418.8 469.6 422.3 467.7 425.0 466.5C427.7 465.3 430.8 464.4 432.0 464.0M411.5 475.6C412.8 475.0 416.6 473.1 419.3 471.7C422.1 470.3 425.4 468.3 428.0 467.1C430.6 465.9 433.6 465.0 434.7 464.6M415.0 476.4C416.3 475.7 420.0 473.8 422.7 472.3C425.3 470.9 428.6 468.9 431.0 467.8C433.4 466.6 436.3 465.6 437.3 465.2M418.5 477.2C419.8 476.5 423.4 474.5 426.0 473.0C428.6 471.5 431.7 469.6 434.0 468.4C436.3 467.2 439.0 466.2 440.0 465.8M422.0 478.0C423.2 477.3 426.8 475.2 429.3 473.7C431.8 472.2 434.8 470.2 437.0 469.0C439.2 467.8 441.7 466.8 442.7 466.3M425.5 478.8C426.7 478.1 430.2 475.9 432.7 474.3C435.1 472.8 437.9 470.9 440.0 469.6C442.1 468.4 444.4 467.4 445.3 466.9M429.0 479.6C430.2 478.9 433.7 476.6 436.0 475.0C438.3 473.4 441.0 471.5 443.0 470.2C445.0 469.0 447.2 468.0 448.0 467.5M432.5 480.5C433.6 479.7 437.1 477.3 439.3 475.7C441.6 474.1 444.1 472.1 446.0 470.9C447.9 469.6 449.9 468.5 450.7 468.1M436.0 481.3C437.1 480.4 440.5 478.0 442.7 476.3C444.8 474.7 447.2 472.8 449.0 471.5C450.8 470.2 452.6 469.1 453.3 468.7M439.5 482.1C440.6 481.2 443.9 478.7 446.0 477.0C448.1 475.3 450.3 473.4 452.0 472.1C453.7 470.8 455.3 469.7 456.0 469.2M443.0 482.9C444.1 482.0 447.3 479.4 449.3 477.7C451.3 476.0 453.4 474.1 455.0 472.8C456.6 471.4 458.1 470.3 458.7 469.8M446.5 483.7C447.5 482.8 450.8 480.1 452.7 478.3C454.6 476.6 456.6 474.7 458.0 473.4C459.4 472.1 460.8 470.9 461.3 470.4M450.0 484.5C451.0 483.6 454.2 480.8 456.0 479.0C457.8 477.2 459.7 475.3 461.0 474.0C462.3 472.7 463.5 471.5 464.0 471.0M487.0 485.0C487.9 484.2 490.5 482.3 492.3 480.2C494.1 478.1 496.3 475.2 497.9 472.4C499.5 469.6 500.5 466.5 501.8 463.5C503.1 460.5 504.1 457.2 505.7 454.6C507.3 452.0 509.2 449.9 511.3 447.9C513.4 445.8 516.1 443.7 518.0 442.3C519.9 440.9 521.0 440.2 522.5 439.5C524.0 438.8 526.2 438.2 526.9 438.0M488.5 485.9C489.5 485.1 492.3 483.4 494.3 481.4C496.2 479.4 498.5 476.7 500.2 474.0C501.9 471.3 503.1 468.2 504.5 465.3C505.9 462.4 507.0 459.0 508.6 456.4C510.3 453.8 512.2 451.6 514.2 449.5C516.3 447.4 518.9 445.2 520.8 443.7C522.6 442.2 523.7 441.4 525.2 440.6C526.7 439.9 529.0 439.4 529.7 439.1M490.0 486.8C491.0 486.1 494.2 484.4 496.2 482.6C498.3 480.7 500.8 478.2 502.6 475.6C504.4 473.0 505.7 470.0 507.2 467.1C508.7 464.2 509.9 460.8 511.6 458.2C513.2 455.5 515.2 453.3 517.2 451.1C519.2 448.9 521.7 446.6 523.5 445.1C525.3 443.5 526.4 442.6 527.9 441.8C529.4 440.9 531.8 440.5 532.6 440.2M491.5 487.6C492.6 487.0 496.0 485.5 498.2 483.8C500.5 482.0 503.0 479.7 504.9 477.2C506.9 474.7 508.2 471.8 509.9 468.9C511.5 466.0 512.8 462.7 514.5 460.0C516.2 457.3 518.1 454.9 520.1 452.7C522.1 450.4 524.5 448.1 526.2 446.5C528.0 444.8 529.1 443.7 530.6 442.9C532.2 442.0 534.6 441.6 535.4 441.3M493.0 488.5C494.2 487.9 497.8 486.6 500.2 485.0C502.6 483.3 505.2 481.2 507.3 478.8C509.3 476.4 510.8 473.5 512.5 470.7C514.2 467.8 515.7 464.5 517.5 461.7C519.2 459.0 521.1 456.6 523.0 454.3C525.0 452.0 527.3 449.6 529.0 447.9C530.7 446.2 531.8 444.9 533.3 444.0C534.9 443.1 537.4 442.7 538.3 442.4M494.5 489.4C495.8 488.9 499.7 487.7 502.2 486.2C504.7 484.7 507.4 482.7 509.6 480.4C511.8 478.2 513.4 475.3 515.2 472.5C517.0 469.6 518.6 466.3 520.4 463.5C522.2 460.8 524.1 458.2 526.0 455.9C527.9 453.5 530.1 451.0 531.8 449.3C533.4 447.5 534.5 446.1 536.0 445.1C537.6 444.2 540.3 443.8 541.1 443.5M496.0 490.3C497.4 489.8 501.5 488.7 504.1 487.4C506.8 486.0 509.7 484.2 511.9 482.0C514.2 479.9 516.0 477.0 517.9 474.2C519.8 471.5 521.5 468.1 523.4 465.3C525.2 462.5 527.0 459.9 528.9 457.4C530.8 455.0 532.9 452.5 534.5 450.6C536.1 448.8 537.2 447.3 538.8 446.2C540.3 445.2 543.1 444.9 544.0 444.6M497.5 491.2C498.9 490.7 503.3 489.8 506.1 488.5C508.9 487.3 511.9 485.7 514.3 483.7C516.7 481.6 518.6 478.8 520.6 476.0C522.6 473.3 524.4 469.9 526.3 467.1C528.2 464.2 530.0 461.5 531.8 459.0C533.7 456.5 535.6 454.0 537.2 452.0C538.9 450.1 539.9 448.4 541.5 447.4C543.0 446.3 545.9 446.0 546.8 445.7M499.0 492.1C500.5 491.7 505.2 490.9 508.1 489.7C511.0 488.6 514.1 487.2 516.6 485.3C519.2 483.3 521.2 480.6 523.3 477.8C525.4 475.1 527.3 471.7 529.2 468.9C531.1 466.0 533.0 463.2 534.8 460.6C536.6 458.1 538.4 455.5 540.0 453.4C541.6 451.4 542.6 449.6 544.2 448.5C545.8 447.4 548.7 447.1 549.6 446.8M500.5 493.0C502.1 492.6 507.0 491.9 510.1 490.9C513.2 489.9 516.3 488.8 519.0 486.9C521.6 485.0 523.8 482.3 526.0 479.6C528.2 476.9 530.2 473.5 532.2 470.6C534.1 467.8 535.9 464.9 537.7 462.2C539.5 459.6 541.2 456.9 542.8 454.8C544.3 452.7 545.3 450.8 546.9 449.6C548.5 448.5 551.5 448.2 552.5 447.9M502.0 493.8C503.7 493.5 508.8 493.0 512.0 492.1C515.3 491.2 518.6 490.3 521.3 488.5C524.1 486.7 526.3 484.1 528.6 481.4C530.9 478.7 533.1 475.4 535.1 472.4C537.1 469.5 538.9 466.5 540.6 463.8C542.4 461.1 544.0 458.4 545.5 456.2C547.0 454.0 547.9 452.0 549.6 450.8C551.2 449.5 554.4 449.3 555.3 449.0M503.5 494.7C505.3 494.5 510.7 494.1 514.0 493.3C517.4 492.5 520.8 491.8 523.7 490.1C526.5 488.4 528.9 485.9 531.3 483.2C533.7 480.6 536.0 477.2 538.1 474.2C540.1 471.2 541.9 468.2 543.6 465.4C545.3 462.6 546.8 459.9 548.2 457.6C549.7 455.4 550.6 453.1 552.3 451.9C553.9 450.6 557.2 450.4 558.2 450.1M505.0 495.6C506.8 495.4 512.5 495.1 516.0 494.5C519.5 493.9 523.0 493.3 526.0 491.7C529.0 490.1 531.5 487.6 534.0 485.0C536.5 482.4 538.9 479.0 541.0 476.0C543.1 473.0 544.8 469.8 546.5 467.0C548.2 464.2 549.6 461.3 551.0 459.0C552.4 456.7 553.3 454.3 555.0 453.0C556.7 451.7 560.0 451.5 561.0 451.2M540.6 444.3C541.3 443.6 543.4 441.6 545.0 440.0C546.6 438.4 548.4 436.2 550.0 435.0C551.6 433.8 553.7 433.0 554.4 432.6M542.8 444.9C543.5 444.2 545.7 442.2 547.3 440.7C549.0 439.1 550.9 437.0 552.5 435.8C554.1 434.5 556.3 433.8 557.0 433.4M545.0 445.6C545.8 444.8 548.0 442.8 549.7 441.3C551.3 439.8 553.3 437.7 555.0 436.5C556.7 435.3 558.9 434.6 559.7 434.2M547.1 446.2C548.0 445.5 550.3 443.5 552.0 442.0C553.7 440.5 555.8 438.4 557.5 437.2C559.2 436.1 561.5 435.3 562.3 435.0M549.3 446.8C550.2 446.1 552.6 444.1 554.3 442.7C556.1 441.2 558.2 439.2 560.0 438.0C561.8 436.8 564.1 436.1 564.9 435.7M551.5 447.4C552.4 446.7 554.8 444.8 556.7 443.3C558.5 441.9 560.7 439.9 562.5 438.8C564.3 437.6 566.7 436.9 567.6 436.5M553.7 448.1C554.6 447.4 557.1 445.4 559.0 444.0C560.9 442.6 563.1 440.6 565.0 439.5C566.9 438.4 569.3 437.7 570.2 437.3M555.9 448.7C556.8 448.0 559.4 446.1 561.3 444.7C563.3 443.3 565.6 441.3 567.5 440.2C569.4 439.2 571.9 438.4 572.8 438.1M558.1 449.3C559.0 448.6 561.7 446.7 563.7 445.3C565.7 443.9 568.0 442.1 570.0 441.0C572.0 439.9 574.6 439.2 575.5 438.9M560.2 449.9C561.2 449.3 564.0 447.4 566.0 446.0C568.0 444.6 570.5 442.8 572.5 441.8C574.5 440.7 577.2 440.0 578.1 439.6M562.4 450.6C563.4 449.9 566.2 448.0 568.3 446.7C570.4 445.3 572.9 443.5 575.0 442.5C577.1 441.5 579.8 440.8 580.7 440.4M564.6 451.2C565.6 450.5 568.5 448.7 570.7 447.3C572.8 446.0 575.4 444.3 577.5 443.2C579.6 442.2 582.4 441.6 583.4 441.2M566.8 451.8C567.8 451.2 570.8 449.3 573.0 448.0C575.2 446.7 577.8 445.0 580.0 444.0C582.2 443.0 585.0 442.3 586.0 442.0M571.0 438.0C571.7 440.4 573.9 447.8 575.0 452.5C576.1 457.2 576.6 462.2 577.8 466.3C579.0 470.4 580.2 474.3 582.0 477.3C583.8 480.3 587.7 483.1 588.8 484.2M573.4 438.5C574.1 440.9 576.5 448.0 577.8 452.7C579.0 457.4 579.6 462.5 580.8 466.8C582.0 471.0 583.2 475.0 585.0 478.0C586.8 481.0 590.5 483.4 591.6 484.5M575.8 439.1C576.6 441.4 579.2 448.3 580.5 453.0C581.8 457.7 582.5 462.9 583.8 467.2C585.0 471.5 586.3 475.7 588.1 478.7C589.8 481.6 593.3 483.8 594.3 484.8M578.2 439.6C579.0 441.8 581.8 448.5 583.2 453.2C584.7 457.9 585.4 463.3 586.8 467.7C588.1 472.0 589.4 476.5 591.1 479.4C592.8 482.3 596.1 484.2 597.1 485.1M580.6 440.1C581.5 442.3 584.5 448.8 586.0 453.4C587.5 458.1 588.4 463.7 589.7 468.1C591.1 472.6 592.4 477.2 594.1 480.1C595.8 483.0 598.9 484.6 599.9 485.5M583.0 440.6C584.0 442.8 587.1 449.0 588.8 453.7C590.4 458.3 591.3 464.1 592.7 468.6C594.1 473.1 595.5 477.9 597.2 480.8C598.8 483.6 601.7 484.9 602.6 485.8M585.4 441.1C586.4 443.3 589.8 449.2 591.5 453.9C593.2 458.5 594.2 464.5 595.7 469.1C597.2 473.6 598.6 478.6 600.2 481.5C601.8 484.3 604.5 485.3 605.4 486.1M587.8 441.7C588.9 443.8 592.4 449.5 594.2 454.1C596.1 458.8 597.2 464.8 598.7 469.5C600.2 474.2 601.7 479.3 603.2 482.1C604.8 485.0 607.3 485.7 608.2 486.4M590.2 442.2C591.3 444.2 595.1 449.7 597.0 454.4C598.9 459.0 600.1 465.2 601.7 470.0C603.2 474.7 604.7 480.0 606.3 482.8C607.8 485.6 610.2 486.1 610.9 486.7M592.6 442.7C593.8 444.7 597.7 450.0 599.8 454.6C601.8 459.2 603.1 465.6 604.6 470.4C606.2 475.2 607.8 480.8 609.3 483.5C610.8 486.3 613.0 486.5 613.7 487.1M595.0 443.2C596.2 445.2 600.4 450.2 602.5 454.8C604.6 459.4 606.0 466.0 607.6 470.9C609.3 475.8 610.9 481.5 612.3 484.2C613.8 487.0 615.8 486.8 616.5 487.4M597.4 443.8C598.7 445.7 603.0 450.5 605.2 455.1C607.5 459.7 608.9 466.4 610.6 471.3C612.3 476.3 613.9 482.2 615.4 484.9C616.8 487.6 618.6 487.2 619.2 487.7M599.8 444.3C601.2 446.1 605.7 450.7 608.0 455.3C610.3 459.9 611.9 466.8 613.6 471.8C615.3 476.9 617.0 482.9 618.4 485.6C619.8 488.3 621.4 487.6 622.0 488.0" fill="none" stroke="#20B2AA" stroke-width="1"/>
<rect x="26" y="492" width="751" height="2" fill="#B22222" shape-rendering="crispEdges"/>
<path d="M26.6 524.7 L31.3 518.5 L37.0 513.8 L46.4 511.0 L54.8 507.2 L59.5 497.8 L62.3 486.5 L65.2 467.6 L69.9 455.4 L74.6 467.6 L82.1 479.9 L89.6 486.5 L94.3 482.7 L99.0 485.5 L106.6 479.9 L115.0 488.3 L118.8 488.3 L125.4 484.6 L130.0 480.3 L137.5 475.0 L145.0 478.8 L152.5 478.8 L160.0 475.8 L167.5 478.8 L175.0 482.5 L182.5 480.3 L187.0 484.0 L193.0 484.8 L199.0 490.0 L203.6 490.8 L209.6 489.3 L214.0 492.3 L218.6 497.5 L223.0 496.8 L232.0 495.3 L238.0 496.0 L242.6 493.8 L245.6 500.5 L249.0 506.1 L256.5 513.7 L261.0 512.2 L270.0 527.2 L277.5 515.2 L288.0 507.6 L297.0 500.1 L304.6 495.6 L310.6 498.6 L316.6 488.1 L319.6 476.1 L324.1 470.1 L330.1 470.1 L336.1 471.6 L340.6 482.1 L348.1 486.6 L354.1 476.1 L360.2 471.6 L366.2 468.6 L373.7 474.6 L381.2 480.6 L387.2 477.6 L396.2 483.6 L403.7 489.6 L411.2 488.1 L417.2 506.1 L423.2 516.7 L433.7 524.2 L439.8 516.7 L446.0 507.6 L452.0 503.1 L458.0 492.6 L467.0 483.6 L473.0 488.1 L479.0 498.6 L485.0 500.1 L492.6 495.6 L500.0 485.1 L507.6 479.1 L513.6 485.1 L519.6 486.6 L527.1 494.1 L533.1 501.6 L542.1 509.1 L548.1 510.6 L555.7 515.2 L560.2 510.6 L566.2 497.1 L573.7 489.6 L579.7 486.6 L584.2 476.1 L588.7 455.1 L591.7 453.6 L596.2 459.6 L600.7 465.6 L606.7 462.6 L612.7 461.1 L618.0 461.5" fill="none" stroke="#A32428" stroke-width="1"/>
<path d="M26.0 503.0 L170.0 520.0 L240.0 524.2 L270.0 525.7 L300.0 525.7 L345.0 524.8 L375.0 527.2 L405.0 532.6 L435.0 535.6 L480.0 536.2 L530.0 541.6 L575.0 548.2 L619.3 549.1" fill="none" stroke="#FF69B4" stroke-width="2"/>
<path d="M26.6 453.0 L33.2 452.2 L37.9 455.4 L41.6 452.2 L46.4 456.3 L50.1 453.0 L54.8 453.0 L58.6 454.5 L65.2 459.2 L69.9 460.1 L74.6 457.3 L79.3 459.2 L83.0 462.0 L87.8 461.0 L92.5 466.7 L94.3 470.0 L101.0 469.1 L105.6 468.6 L111.3 475.2 L115.0 480.4 L118.8 475.2 L123.5 474.8 L130.0 474.5 L137.6 475.0 L142.0 487.0 L151.0 494.5 L155.5 494.2 L157.8 490.8 L162.3 508.0 L165.3 508.0 L173.5 493.0 L179.5 492.3 L190.0 482.5 L198.3 475.0 L202.0 476.5 L205.8 484.0 L209.6 476.5 L212.5 452.0 L215.0 450.0 L227.0 453.6 L230.0 452.0 L233.6 460.0 L238.4 476.0 L244.0 469.0 L250.5 456.6 L256.5 455.1 L262.5 448.5 L267.0 457.5 L271.5 458.1 L279.0 467.1 L285.0 459.6 L292.6 468.6 L300.0 467.1 L306.0 465.6 L312.0 482.1 L318.0 494.7 L324.0 494.7 L328.6 497.7 L333.0 495.6 L336.7 485.1 L338.5 472.5 L342.7 483.6 L348.0 465.6 L354.0 463.5 L358.7 456.6 L363.0 456.6 L367.7 465.6 L373.7 473.1 L379.7 467.1 L385.7 467.1 L393.0 453.6 L402.0 447.6 L408.0 456.6 L412.7 455.7 L417.0 461.1 L421.7 462.6 L426.0 471.6 L432.0 473.1 L438.0 479.1 L441.9 473.7 L450.0 480.6 L455.0 473.1 L459.5 459.6 L464.0 456.6 L470.0 447.6 L477.5 455.1 L482.0 425.0 L486.0 407.0 L489.6 425.0 L494.0 434.0 L500.0 428.0 L504.6 428.6 L510.6 432.5 L516.6 423.5 L522.6 417.5 L527.0 422.0 L534.0 410.0 L536.7 422.0 L540.6 443.0 L543.6 449.0 L545.7 446.0 L549.6 465.6 L552.6 473.1 L555.6 488.1 L558.0 515.2 L560.2 497.1 L562.6 482.1 L566.2 470.1 L569.2 472.5 L573.7 467.1 L576.7 476.1 L582.7 494.1 L585.7 488.1 L588.7 491.1 L593.2 509.1 L596.2 510.6 L599.2 509.1 L602.2 515.2 L606.7 515.2 L611.2 506.1 L614.8 486.6 L618.7 495.6" fill="none" stroke="#000" stroke-width="2" stroke-linejoin="round"/>
</g>
<text y="408" font-family='"Liberation Sans", "Noto Sans CJK JP", sans-serif' font-size="9.6" fill="#000" stroke="#000" stroke-width="0.15"><tspan x="30.3" textLength="53.3" lengthAdjust="spacingAndGlyphs">bevFX=301_</tspan><tspan x="84.5" font-size="8.3" textLength="39.5" lengthAdjust="spacingAndGlyphs">鳥瞰インジ</tspan><tspan x="126.5" textLength="26.5" lengthAdjust="spacingAndGlyphs">0.0000</tspan><tspan x="157" textLength="30" lengthAdjust="spacingAndGlyphs">-0.0001</tspan></text>
<text x="26.5" y="430" font-family='"Liberation Sans", "Noto Sans CJK JP", sans-serif' font-size="20" font-weight="bold" textLength="98" lengthAdjust="spacingAndGlyphs" fill="#008000" stroke="#008000" stroke-width="0.9">EURUSD</text>
<text x="56.5" y="454" font-family='"Liberation Sans", "Noto Sans CJK JP", sans-serif' font-size="20" font-weight="bold" textLength="13" lengthAdjust="spacingAndGlyphs" fill="#008000" stroke="#008000" stroke-width="0.9">5</text>
<defs><clipPath id="cr"><rect x="780" y="396" width="4" height="190"/></clipPath></defs>
<g clip-path="url(#cr)"><text x="781" y="407" font-family='"Liberation Sans", "Noto Sans CJK JP", sans-serif' font-size="10" fill="#345">0</text><text x="781" y="497" font-family='"Liberation Sans", "Noto Sans CJK JP", sans-serif' font-size="10" fill="#345">0</text></g>
<g shape-rendering="crispEdges">
<rect x="20" y="15" width="763" height="2" fill="#F0F0F0"/>
<rect x="20" y="17" width="763" height="1" fill="#A0A0A0"/>
<rect x="21" y="18" width="762" height="1" fill="#696969"/>
<rect x="20" y="17" width="1" height="571" fill="#E8E8E8"/>
<rect x="21" y="17" width="1" height="571" fill="#A0A0A0"/>
<rect x="22" y="18" width="1" height="570" fill="#696969"/>
<rect x="92" y="15" width="1" height="2" fill="#A8A8A8"/>
<rect x="353" y="15" width="1" height="2" fill="#A8A8A8"/>
<rect x="25" y="21" width="753" height="1" fill="#000"/>
<rect x="25" y="21" width="1" height="374" fill="#000"/>
<rect x="25" y="394" width="753" height="1" fill="#000"/>
<rect x="777" y="21" width="1" height="374" fill="#000"/>
<rect x="25" y="396" width="753" height="1" fill="#000"/>
<rect x="25" y="396" width="1" height="187" fill="#000"/>
<rect x="26" y="582" width="1" height="4" fill="#000"/>
<rect x="25" y="582" width="753" height="1" fill="#000"/>
<rect x="777" y="396" width="1" height="187" fill="#000"/>
<rect x="778" y="53" width="2" height="1" fill="#000"/>
<rect x="778" y="87" width="2" height="1" fill="#000"/>
<rect x="778" y="121" width="2" height="1" fill="#000"/>
<rect x="778" y="155" width="2" height="1" fill="#000"/>
<rect x="778" y="188" width="2" height="1" fill="#000"/>
<rect x="778" y="222" width="2" height="1" fill="#000"/>
<rect x="778" y="256" width="2" height="1" fill="#000"/>
<rect x="778" y="290" width="2" height="1" fill="#000"/>
<rect x="778" y="323" width="2" height="1" fill="#000"/>
<rect x="778" y="357" width="2" height="1" fill="#000"/>
<rect x="778" y="391" width="2" height="1" fill="#000"/>
<rect x="778" y="398" width="1" height="1" fill="#000"/>
<rect x="778" y="493" width="2" height="1" fill="#000"/>
<rect x="781" y="576" width="2" height="1" fill="#000"/>
<rect x="219" y="583" width="1" height="3" fill="#000"/>
<rect x="283" y="583" width="1" height="3" fill="#000"/>
<rect x="347" y="583" width="1" height="3" fill="#000"/>
<rect x="411" y="583" width="1" height="3" fill="#000"/>
<rect x="475" y="583" width="1" height="3" fill="#000"/>
<rect x="539" y="583" width="1" height="3" fill="#000"/>
<rect x="603" y="583" width="1" height="3" fill="#000"/>
<rect x="779" y="148" width="4" height="9" fill="#FF4500"/>
<rect x="779" y="157" width="4" height="11" fill="#000"/>
</g>
<g shape-rendering="crispEdges">
<rect x="745" y="462" width="17" height="16" fill="#fff"/><rect x="745" y="462" width="17" height="2" fill="#C8C8C8"/><rect x="745" y="462" width="2" height="16" fill="#C8C8C8"/><rect x="746" y="476" width="16" height="2" fill="#606060"/><rect x="760" y="463" width="2" height="15" fill="#606060"/>
<rect x="762" y="462" width="15" height="16" fill="#E9DED4"/><rect x="762" y="462" width="15" height="2" fill="#606060"/><rect x="762" y="462" width="1" height="16" fill="#606060"/><rect x="763" y="477" width="14" height="1" fill="#C8C8C8"/><rect x="776" y="463" width="1" height="15" fill="#C8C8C8"/>
<rect x="745" y="502" width="17" height="16" fill="#fff"/><rect x="745" y="502" width="17" height="2" fill="#C8C8C8"/><rect x="745" y="502" width="2" height="16" fill="#C8C8C8"/><rect x="746" y="516" width="16" height="2" fill="#606060"/><rect x="760" y="503" width="2" height="15" fill="#606060"/>
<rect x="762" y="502" width="15" height="16" fill="#E9DED4"/><rect x="762" y="502" width="15" height="2" fill="#606060"/><rect x="762" y="502" width="1" height="16" fill="#606060"/><rect x="763" y="517" width="14" height="1" fill="#C8C8C8"/><rect x="776" y="503" width="1" height="15" fill="#C8C8C8"/>
<rect x="745" y="522" width="17" height="16" fill="#fff"/><rect x="745" y="522" width="17" height="2" fill="#C8C8C8"/><rect x="745" y="522" width="2" height="16" fill="#C8C8C8"/><rect x="746" y="536" width="16" height="2" fill="#606060"/><rect x="760" y="523" width="2" height="15" fill="#606060"/>
<rect x="762" y="522" width="15" height="16" fill="#E9DED4"/><rect x="762" y="522" width="15" height="2" fill="#606060"/><rect x="762" y="522" width="1" height="16" fill="#606060"/><rect x="763" y="537" width="14" height="1" fill="#C8C8C8"/><rect x="776" y="523" width="1" height="15" fill="#C8C8C8"/>
<rect x="745" y="542" width="17" height="16" fill="#E8E800"/>
<rect x="745" y="542" width="17" height="1" fill="#F4F460"/><rect x="745" y="542" width="1" height="16" fill="#F4F460"/>
<rect x="745" y="557" width="17" height="1" fill="#F0F040"/>
<rect x="762" y="542" width="15" height="16" fill="#E9DED4"/><rect x="762" y="542" width="15" height="2" fill="#606060"/><rect x="762" y="542" width="1" height="16" fill="#606060"/><rect x="763" y="557" width="14" height="1" fill="#C8C8C8"/><rect x="776" y="543" width="1" height="15" fill="#C8C8C8"/>
<rect x="745" y="562" width="17" height="16" fill="#fff"/><rect x="745" y="562" width="17" height="2" fill="#C8C8C8"/><rect x="745" y="562" width="2" height="16" fill="#C8C8C8"/><rect x="746" y="576" width="16" height="2" fill="#606060"/><rect x="760" y="563" width="2" height="15" fill="#606060"/>
<rect x="762" y="562" width="15" height="16" fill="#E9DED4"/><rect x="762" y="562" width="15" height="2" fill="#606060"/><rect x="762" y="562" width="1" height="16" fill="#606060"/><rect x="763" y="577" width="14" height="1" fill="#C8C8C8"/><rect x="776" y="563" width="1" height="15" fill="#C8C8C8"/>
</g>
<text x="753.3" y="474" text-anchor="middle" font-family='"Liberation Sans", "Noto Sans CJK JP", sans-serif' font-size="10.5" fill="#123">*</text>
<text x="770.3" y="474.5" text-anchor="middle" font-family='"Liberation Sans", "Noto Sans CJK JP", sans-serif' font-size="10.5" fill="#123">*</text>
<text x="753.3" y="514" text-anchor="middle" font-family='"Liberation Sans", "Noto Sans CJK JP", sans-serif' font-size="10.5" fill="#123">*</text>
<text x="770.3" y="515" text-anchor="middle" font-family='"Liberation Sans", "Noto Sans CJK JP", sans-serif' font-size="11" fill="#000">A</text>
<text x="753.3" y="534" text-anchor="middle" font-family='"Liberation Sans", "Noto Sans CJK JP", sans-serif' font-size="10.5" fill="#123">*</text>
<text x="770.3" y="535" text-anchor="middle" font-family='"Liberation Sans", "Noto Sans CJK JP", sans-serif' font-size="11" fill="#000">B</text>
<text x="753.3" y="554" text-anchor="middle" font-family='"Liberation Sans", "Noto Sans CJK JP", sans-serif' font-size="10.5" fill="#123">*</text>
<text x="770.3" y="555" text-anchor="middle" font-family='"Liberation Sans", "Noto Sans CJK JP", sans-serif' font-size="11" fill="#000">S</text>
<text x="753.3" y="574" text-anchor="middle" font-family='"Liberation Sans", "Noto Sans CJK JP", sans-serif' font-size="10.5" fill="#123">*</text>
<text x="770.3" y="575" text-anchor="middle" font-family='"Liberation Sans", "Noto Sans CJK JP", sans-serif' font-size="11" fill="#000">M</text>
<rect x="28" y="575.8" width="135" height="41.4" rx="5" ry="5" fill="#fff" stroke="#B4A4A4" stroke-width="2"/>
<text x="37" y="613.6" font-family='"Liberation Sans", "Noto Sans CJK JP", sans-serif' font-size="23.5" textLength="65.5" lengthAdjust="spacingAndGlyphs" fill="#1EAEFF">bevFX</text>
<polygon points="92.1,585.6 118.1,578.6 121.5,589.4 115.1,592.2" fill="#8A90A6"/>
<polygon points="126.3,591.4 140.2,585.0 153.6,614.3 135.1,601.4 128.1,598.0" fill="#8A90A6"/>
<polygon points="115.1,604.0 127.1,601.0 134.5,613.5 117.5,606.4" fill="#93A3C4"/>
<polygon points="109.9,602.2 115.1,596.6 116.1,601.4" fill="#7C8296"/>
<ellipse cx="124.1" cy="595.6" rx="6.2" ry="6.4" fill="#80879C"/>
<circle cx="118.1" cy="597.4" r="4" fill="#8FCB8F"/>
</svg>
</body></html>
